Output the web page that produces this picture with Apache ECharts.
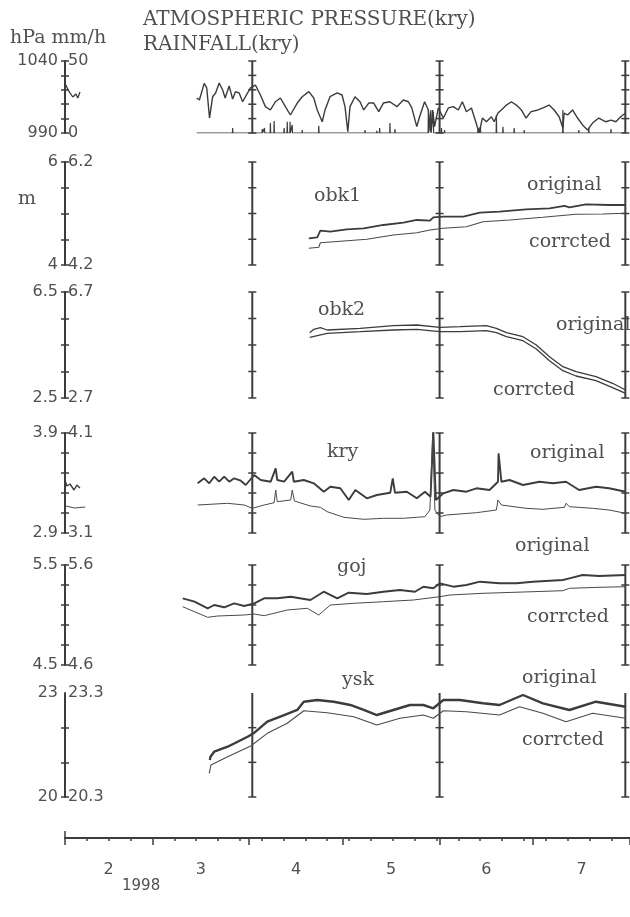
<!DOCTYPE html>
<html><head><meta charset="utf-8">
<script src="https://cdn.jsdelivr.net/npm/echarts@6/dist/echarts.min.js"></script>
<style>html,body{margin:0;padding:0;background:#fff}#c{width:630px;height:917px}</style>
</head><body><div id="c"></div>
<script>
// ---------- axis / calendar data (days since 1998-02-01) ----------
const monthLabels = ['2','3','4','5','6','7'];
const monthStartDays = [0,28,59,89,120,150,181];
const weekTickDays = [7,14,21,35,42,49,56,63,70,77,84,91,98,105,112,119,126,133,140,147,154,161,168,175];
const markerBarDays = [60,120,179.5];

// ---------- panel scales ----------
const pressureScale = [990,1040], rainScale = [0,50];
const pressureTicks = [990,1000,1010,1020,1030,1040], rainTicks = [0,10,20,30,40,50];
const obk1Scale = [4,6], obk1RScale = [4.2,6.2];
const obk1Ticks = [4,4.5,5,5.5,6], obk1RTicks = [4.2,4.7,5.2,5.7,6.2];
const obk2Scale = [2.5,6.5], obk2RScale = [2.7,6.7];
const obk2Ticks = [2.5,3.5,4.5,5.5,6.5], obk2RTicks = [2.7,3.7,4.7,5.7,6.7];
const kryScale = [2.9,3.9], kryRScale = [3.1,4.1];
const kryTicks = [2.9,3.1,3.3,3.5,3.7,3.9], kryRTicks = [3.1,3.3,3.5,3.7,3.9,4.1];
const gojScale = [4.5,5.5], gojRScale = [4.6,5.6];
const gojTicks = [4.5,4.7,4.9,5.1,5.3,5.5], gojRTicks = [4.6,4.8,5.0,5.2,5.4,5.6];
const yskScale = [20,23], yskRScale = [20.3,23.3];
const yskTicks = [20,21,22], yskRTicks = [20.3,21.3,22.3];

// ---------- series values [day, value] ----------
const pressureEarly = [[0.3,1023.3],[1,1019.9],[1.6,1017.8],[2.5,1015.0],[3.5,1017.1],[4.1,1014.3],[4.8,1018.5]];
const pressure = [[42.2,1014.3],[43.05,1012.9],[44.6,1024.5],[45.4,1021.3],[46.3,1000.4],[47.3,1015.2],[48.25,1017.8],[49.4,1024.7],[50.5,1019.9],[51.3,1014.3],[52.6,1022.6],[53.7,1013.6],[54.6,1018.7],[55.8,1017.8],[56.9,1011.7],[59.4,1021.3],[61.0,1023.3],[62.6,1016.4],[64.2,1008.3],[65.8,1006.0],[67.4,1011.7],[69.0,1014.3],[70.6,1008.3],[72.2,1002.5],[74.4,1010.8],[76.0,1015.2],[78.1,1018.7],[79.7,1014.3],[80.8,1006.0],[82.4,997.8],[83.3,1006.0],[84.9,1015.2],[87.2,1017.8],[88.75,1016.4],[89.7,1008.3],[90.6,990.9],[91.3,1008.3],[92.9,1015.2],[94.5,1011.7],[95.7,1006.0],[97.3,1010.8],[98.9,1010.8],[100.5,1004.8],[102.0,1010.8],[104.1,1011.7],[106.3,1008.3],[108.4,1012.9],[110.0,1011.7],[111.1,1007.4],[112.7,994.4],[113.6,1001.3],[115.2,1011.7],[116.4,1006.0],[117.1,990.9],[117.8,1006.0],[118.4,994.4],[119.6,1007.4],[121.2,1000.4],[122.8,1007.4],[124.4,1008.3],[126.0,1006.0],[127.3,1011.7],[128.6,1004.8],[130.2,1007.4],[131.2,1000.4],[132.7,990.0],[133.7,1000.4],[135.0,997.8],[136.6,1001.3],[137.5,997.8],[138.7,1003.9],[139.8,1006.0],[141.4,1009.4],[143.0,1011.7],[144.6,1009.4],[146.2,1006.0],[147.7,1000.4],[149.3,1004.8],[151.5,1006.0],[153.1,1007.4],[155.1,1009.4],[156.7,1006.0],[158.3,1001.3],[159.5,993.5],[159.9,1003.9],[161.0,1002.5],[162.6,1006.0],[164.2,1000.4],[165.8,995.6],[167.4,992.1],[169.0,996.9],[171.0,1000.4],[173.3,997.8],[174.9,999.0],[176.5,997.8],[178.0,1001.3],[179.6,1003.9]];
const rainPeriod = [42.2,179.6];
const rainEvents = [[46.75,0.9],[53.7,3.5],[63.2,2.8],[63.9,3.5],[65.8,6.9],[67.0,8.3],[70.2,3.5],[71.2,7.8],[72.1,7.8],[72.8,5.6],[76.0,2.1],[81.3,5.1],[96.1,2.1],[99.9,1.6],[100.8,3.5],[104.1,6.9],[105.7,2.8],[116.4,15.3],[117.2,16.0],[118.0,14.6],[120.6,3.5],[121.6,2.1],[127.6,0.9],[132.3,3.5],[133.1,4.4],[138.2,12.5],[140.3,4.4],[143.9,3.5],[147.1,2.1],[159.5,16.0],[164.6,2.1],[167.8,3.5],[174.9,2.8]];

const obk1Original = [[78.1,4.519],[80.8,4.538],[81.8,4.666],[85.0,4.647],[90.3,4.693],[95.7,4.713],[102.0,4.777],[108.4,4.821],[112.7,4.874],[116.9,4.860],[118.0,4.926],[121.2,4.938],[127.6,4.938],[132.9,5.016],[139.2,5.035],[147.7,5.082],[155.2,5.101],[160.0,5.146],[161.6,5.120],[166.9,5.179],[174.3,5.165],[179.6,5.165]];
const obk1Corrected = [[78.1,4.524],[81.3,4.544],[81.8,4.633],[89.3,4.666],[96.7,4.699],[105.2,4.783],[112.7,4.827],[116.9,4.880],[121.2,4.913],[128.6,4.944],[133.9,5.041],[142.4,5.074],[153.1,5.126],[163.7,5.184],[172.2,5.190],[179.6,5.204]];

const obk2Original = [[78.4,4.964],[79.7,5.092],[81.8,5.153],[84.0,5.066],[94.6,5.130],[105.2,5.228],[112.7,5.255],[120.1,5.168],[126.5,5.191],[135.0,5.228],[138.2,5.130],[141.4,4.964],[146.7,4.813],[151.0,4.500],[155.2,4.058],[159.5,3.681],[163.7,3.492],[170.1,3.304],[175.4,3.055],[179.6,2.802]];
const obk2Corrected = [[78.4,4.991],[84.0,5.142],[94.6,5.202],[105.2,5.266],[112.7,5.292],[120.1,5.202],[126.5,5.202],[135.0,5.240],[138.2,5.164],[141.4,5.013],[146.7,4.862],[151.0,4.549],[155.2,4.108],[159.5,3.730],[163.7,3.530],[170.1,3.353],[175.4,3.089],[179.6,2.877]];

const kryEarlyOriginal = [[0,3.43],[0.6,3.37],[1.6,3.39],[2.9,3.33],[3.8,3.38],[4.8,3.35]];
const kryEarlyCorrected = [[0.3,3.37],[3,3.35],[6.5,3.36]];
const kryOriginal = [[42.5,3.397],[44.6,3.447],[46.2,3.397],[47.8,3.463],[49.4,3.413],[51.0,3.463],[52.6,3.413],[54.2,3.447],[56.3,3.423],[57.9,3.38],[60.6,3.48],[62.7,3.43],[65.9,3.413],[67.5,3.547],[68.0,3.43],[70.2,3.413],[72.8,3.513],[73.3,3.413],[76.5,3.43],[79.7,3.397],[82.9,3.313],[85.0,3.363],[88.2,3.347],[90.9,3.23],[93.0,3.33],[96.7,3.247],[99.9,3.28],[104.2,3.303],[105.0,3.447],[105.7,3.303],[109.5,3.313],[112.7,3.247],[115.3,3.313],[117.1,3.263],[118.0,3.913],[118.8,3.23],[121.2,3.297],[124.4,3.33],[128.6,3.313],[131.8,3.347],[136.0,3.33],[138.7,3.413],[138.9,3.697],[139.8,3.413],[142.4,3.43],[146.7,3.38],[152.0,3.413],[156.3,3.397],[160.5,3.413],[164.7,3.33],[170.1,3.363],[174.3,3.347],[179.6,3.313]];
const kryCorrected = [[42.5,3.38],[52.1,3.397],[57.4,3.38],[60.0,3.347],[63.8,3.38],[67.0,3.403],[67.5,3.53],[68.0,3.413],[72.3,3.43],[72.8,3.53],[73.5,3.42],[78.6,3.37],[81.8,3.357],[84.0,3.313],[89.3,3.257],[95.7,3.237],[102.0,3.247],[108.4,3.247],[112.7,3.257],[115.3,3.263],[116.9,3.33],[117.8,4.097],[118.5,3.33],[120.1,3.263],[122.2,3.28],[131.8,3.303],[138.2,3.33],[138.7,3.43],[139.8,3.38],[147.7,3.347],[153.1,3.337],[160.0,3.357],[160.5,3.397],[161.6,3.363],[169.0,3.347],[174.3,3.33],[179.6,3.297]];

const gojOriginal = [[37.7,5.167],[41.5,5.133],[45.7,5.067],[47.8,5.10],[51.0,5.077],[54.2,5.117],[57.4,5.09],[60.6,5.117],[63.8,5.167],[68.0,5.167],[72.3,5.183],[78.6,5.15],[82.9,5.233],[87.2,5.167],[90.9,5.223],[96.7,5.21],[102.0,5.233],[107.3,5.25],[112.1,5.233],[114.8,5.283],[118.0,5.267],[120.1,5.317],[124.4,5.283],[128.6,5.30],[132.9,5.333],[139.2,5.317],[144.6,5.317],[149.9,5.333],[159.5,5.35],[161.6,5.367],[165.8,5.40],[171.1,5.39],[179.6,5.40]];
const gojCorrected = [[37.7,5.183],[45.7,5.077],[48.9,5.09],[57.4,5.10],[60.6,5.11],[63.8,5.093],[71.2,5.15],[77.6,5.167],[81.3,5.10],[85.0,5.20],[92.5,5.217],[102.0,5.233],[111.6,5.25],[120.1,5.283],[123.3,5.30],[133.9,5.317],[149.9,5.333],[159.5,5.343],[161.6,5.367],[171.1,5.377],[179.6,5.383]];

const yskOriginal = [[46.4,21.07],[46.6,21.163],[47.8,21.307],[52.1,21.451],[58.5,21.739],[60.4,21.837],[64.8,22.172],[70.2,22.365],[74.4,22.510],[76.5,22.749],[80.8,22.798],[86.1,22.749],[91.4,22.654],[95.7,22.510],[99.9,22.365],[105.2,22.510],[110.5,22.654],[114.8,22.654],[118.0,22.559],[121.2,22.798],[126.5,22.798],[133.9,22.703],[139.2,22.654],[146.7,22.942],[153.1,22.703],[161.6,22.510],[170.1,22.749],[179.6,22.605]];
const yskCorrected = [[46.2,20.984],[46.75,21.223],[52.1,21.463],[59.5,21.771],[64.8,22.137],[71.2,22.426],[76.5,22.789],[84.0,22.732],[92.5,22.616],[99.9,22.377],[107.3,22.570],[114.8,22.665],[118.0,22.570],[121.2,22.789],[128.6,22.760],[139.2,22.665],[145.6,22.905],[153.1,22.714],[160.5,22.472],[169.0,22.714],[179.6,22.570]];

// ---------- styling ----------
const INK = '#3c3c3c', TXT = '#505050';
const SANS = 'DejaVu Sans', SERIF = 'DejaVu Serif';
const X0 = 0, X1 = 181;
const plain = v => String(v);

const panels = [
  {top:61, h:72, l:pressureScale, r:rainScale, lt:pressureTicks, rt:rainTicks},
  {top:162, h:103, l:obk1Scale, r:obk1RScale, lt:obk1Ticks, rt:obk1RTicks},
  {top:292, h:106, l:obk2Scale, r:obk2RScale, lt:obk2Ticks, rt:obk2RTicks},
  {top:433, h:100, l:kryScale, r:kryRScale, lt:kryTicks, rt:kryRTicks},
  {top:565, h:100, l:gojScale, r:gojRScale, lt:gojTicks, rt:gojRTicks},
  {top:693, h:104, l:yskScale, r:yskRScale, lt:yskTicks, rt:yskRTicks}
];

const grid = [], xAxis = [], yAxis = [], series = [];
panels.forEach((p, i) => {
  grid.push({left:65, right:-5, top:p.top, height:p.h, containLabel:false});
  xAxis.push({gridIndex:i, type:'value', min:X0, max:X1, show:false});
  // left scale (labels outside)
  yAxis.push({gridIndex:i, type:'value', min:p.l[0], max:p.l[1], position:'left',
    axisLine:{show:true, lineStyle:{color:INK, width:2}},
    axisTick:{show:true, customValues:p.lt, length:4, lineStyle:{color:INK, width:1.5}},
    axisLabel:{customValues:[p.l[0], p.l[1]], margin:7, fontFamily:SANS, fontSize:16, color:TXT, formatter:plain},
    splitLine:{show:false}});
  // right scale (labels inside)
  yAxis.push({gridIndex:i, type:'value', min:p.r[0], max:p.r[1], position:'left', offset:0,
    axisLine:{show:false},
    axisTick:{show:true, inside:true, customValues:p.rt, length:4, lineStyle:{color:INK, width:1.5}},
    axisLabel:{inside:true, customValues:[p.r[0], p.r[1]], margin:3, fontFamily:SANS, fontSize:16, color:TXT, formatter:plain},
    splitLine:{show:false}});
  // marker bars
  const lt = p.lt, lmin = p.l[0], lmax = p.l[1];
  series.push({type:'custom', xAxisIndex:i, yAxisIndex:2*i, silent:true, clip:false,
    data: markerBarDays.map(d => [d, lmin]),
    renderItem: function (params, api) {
      const d = api.value(0);
      const a = api.coord([d, lmax]), b = api.coord([d, lmin]);
      const ch = [{type:'line', shape:{x1:a[0], y1:a[1], x2:b[0], y2:b[1]}, style:{stroke:INK, lineWidth:2}}];
      lt.forEach(t => { const q = api.coord([d, t]);
        ch.push({type:'line', shape:{x1:q[0]-4, y1:q[1], x2:q[0]+4, y2:q[1]}, style:{stroke:INK, lineWidth:1.5}}); });
      return {type:'group', children:ch};
    }});
});

function line(gi, axis, data, w, color) {
  series.push({type:'line', xAxisIndex:gi, yAxisIndex:2*gi+axis, data:data, showSymbol:false, symbol:'none',
    silent:true, animation:false, lineStyle:{color:color||INK, width:w}});
}
// rainfall as spikes on a zero baseline
const rainLine = [[rainPeriod[0],0]];
rainEvents.forEach(e => { rainLine.push([e[0]-0.08,0],[e[0],e[1]],[e[0]+0.08,0]); });
rainLine.push([rainPeriod[1],0]);

line(0,0,pressureEarly,1.3);
line(0,0,pressure,1.4);
line(0,1,rainLine,1.2);
line(1,0,obk1Original,1.8);
line(1,1,obk1Corrected,1.1,'#4a4a4a');
line(2,0,obk2Original,1.3);
line(2,1,obk2Corrected,1.3);
line(3,0,kryEarlyOriginal,1.4);
line(3,1,kryEarlyCorrected,1.0,'#4a4a4a');
line(3,0,kryOriginal,1.9);
line(3,1,kryCorrected,1.0,'#4a4a4a');
line(4,0,gojOriginal,1.9);
line(4,1,gojCorrected,1.0,'#4a4a4a');
line(5,0,yskOriginal,2.4);
line(5,1,yskCorrected,1.1,'#4a4a4a');

// visible time axis below the last panel
const monthMid = monthLabels.map((m, i) => (monthStartDays[i] + monthStartDays[i+1]) / 2);
xAxis.push({gridIndex:5, type:'value', min:X0, max:X1, position:'bottom', offset:41,
  axisLine:{show:true, lineStyle:{color:INK, width:2}},
  axisTick:{show:true, customValues:monthStartDays, length:7, lineStyle:{color:INK, width:1.5}},
  axisLabel:{customValues:monthMid, margin:24, fontFamily:SANS, fontSize:16, color:TXT,
    formatter: v => { const k = monthMid.findIndex(m => Math.abs(m - v) < 0.01); return k >= 0 ? monthLabels[k] : ''; }},
  splitLine:{show:false}});
xAxis.push({gridIndex:5, type:'value', min:X0, max:X1, position:'bottom', offset:41,
  axisLine:{show:false}, axisLabel:{show:false}, splitLine:{show:false},
  axisTick:{show:true, customValues:weekTickDays, length:3, lineStyle:{color:INK, width:1.5}}});
xAxis.push({gridIndex:5, type:'value', min:X0, max:X1, position:'bottom', offset:41,
  axisLine:{show:false}, axisLabel:{show:false}, splitLine:{show:false},
  axisTick:{show:true, inside:true, customValues:[monthStartDays[0]], length:7, lineStyle:{color:INK, width:1.5}}});

function txt(x, y, s, size, fam) {
  return {type:'text', x:x, y:y, silent:true,
    style:{text:s, font: size + 'px "' + fam + '"', fill:TXT, align:'left', verticalAlign:'middle'}};
}
const graphic = [
  txt(143, 20, 'ATMOSPHERIC PRESSURE(kry)', 20, SERIF),
  txt(143, 45, 'RAINFALL(kry)', 20, SERIF),
  txt(10, 38, 'hPa mm/h', 19, SERIF),
  txt(18, 199, 'm', 19, SERIF),
  txt(314, 196, 'obk1', 19, SERIF),
  txt(527, 185, 'original', 19, SERIF),
  txt(529, 242, 'corrcted', 19, SERIF),
  txt(318, 310, 'obk2', 19, SERIF),
  txt(556, 325, 'original', 19, SERIF),
  txt(493, 390, 'corrcted', 19, SERIF),
  txt(327, 452, 'kry', 19, SERIF),
  txt(530, 453, 'original', 19, SERIF),
  txt(337, 567, 'goj', 19, SERIF),
  txt(515, 546, 'original', 19, SERIF),
  txt(527, 617, 'corrcted', 19, SERIF),
  txt(342, 680, 'ysk', 19, SERIF),
  txt(522, 678, 'original', 19, SERIF),
  txt(522, 740, 'corrcted', 19, SERIF),
  txt(122, 886, '1998', 15, SANS)
];

const chart = echarts.init(document.getElementById('c'), null, {renderer:'canvas'});
chart.setOption({animation:false, backgroundColor:'#ffffff', grid, xAxis, yAxis, series, graphic});
</script></body></html>
